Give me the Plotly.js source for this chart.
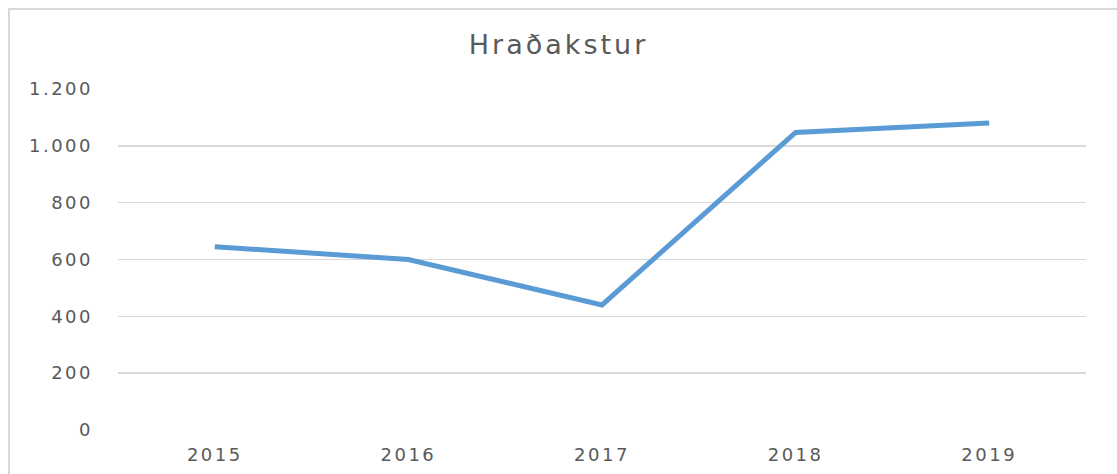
<!DOCTYPE html>
<html>
<head>
<meta charset="utf-8">
<script src="https://cdn.plot.ly/plotly-3.0.1.min.js"></script>
<style>
html,body{margin:0;padding:0;background:#fff;overflow:hidden;}
#frame{position:absolute;left:8px;top:8px;width:1200px;height:600px;border-left:2px solid #d9d9d9;border-top:2px solid #d9d9d9;box-sizing:border-box;}
#chart{position:absolute;left:0;top:0;width:1117px;height:474px;}
#chart .xtick text, #chart .ytick text {letter-spacing:2.5px;}
#chart .gtitle {letter-spacing:3px;}
</style>
</head>
<body>
<div id="frame"></div>
<div id="chart"></div>
<script>
const years = ['2015', '2016', '2017', '2018', '2019'];
const values = [645, 600, 440, 1047, 1080];
const yTicks = [0, 200, 400, 600, 800, 1000, 1200];

const trace = {
  x: years,
  y: values,
  type: 'scatter',
  mode: 'lines',
  line: {color: '#5B9BD5', width: 5},
  hoverinfo: 'skip'
};

const layout = {
  width: 1117,
  height: 474,
  paper_bgcolor: 'rgba(0,0,0,0)',
  plot_bgcolor: 'rgba(0,0,0,0)',
  separators: ',.',
  showlegend: false,
  margin: {l: 118, r: 31, t: 89, b: 44},
  title: {
    text: 'Hraðakstur',
    font: {family: 'DejaVu Sans, sans-serif', size: 27, color: '#595959'},
    x: 0.5, xanchor: 'center', y: 0.905, yanchor: 'middle'
  },
  xaxis: {
    type: 'category',
    range: [-0.5, 4.5],
    showgrid: false,
    zeroline: false,
    showline: false,
    ticks: '',
    tickfont: {family: 'DejaVu Sans, sans-serif', size: 18, color: '#595959'},
    ticklabelstandoff: 12
  },
  yaxis: {
    range: [0, 1200],
    tickvals: yTicks,
    tickformat: ',d',
    showgrid: true,
    gridcolor: '#d9d9d9',
    gridwidth: 1.6,
    zeroline: false,
    showline: false,
    ticks: '',
    tickfont: {family: 'DejaVu Sans, sans-serif', size: 18, color: '#595959'},
    ticklabelstandoff: 24
  }
};

Plotly.newPlot('chart', [trace], layout, {staticPlot: true, displayModeBar: false});
</script>
</body>
</html>
